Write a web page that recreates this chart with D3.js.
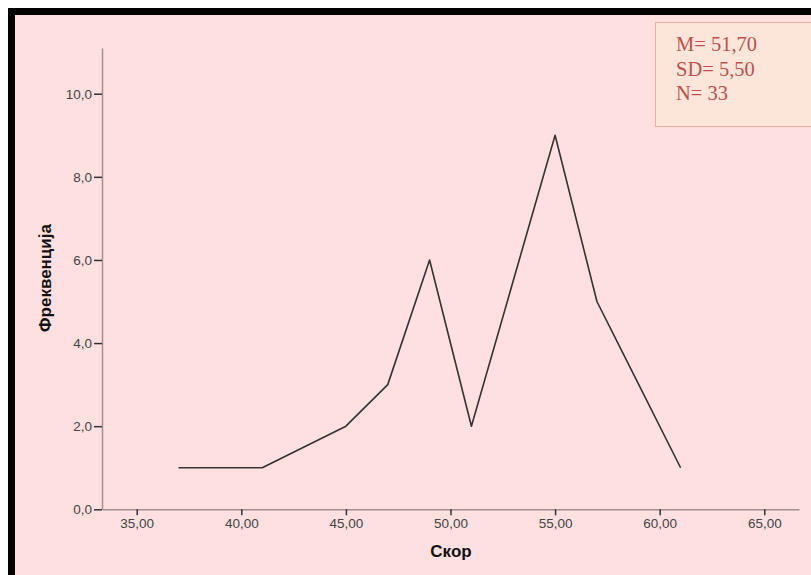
<!DOCTYPE html>
<html><head><meta charset="utf-8">
<script src="https://cdn.jsdelivr.net/npm/d3@7"></script>
<style>body{margin:0;background:#fff}svg{display:block}</style>
</head><body>
<script>
const scores = [37, 41, 45, 47, 49, 51, 55, 57, 59, 61];
const freqs  = [1, 1, 2, 3, 6, 2, 9, 5, 3, 1];
const xTicks = [35, 40, 45, 50, 55, 60, 65];
const yTicks = [0, 2, 4, 6, 8, 10];
const statLines = ["M= 51,70", "SD= 5,50", "N= 33"];
const xTitle = "Скор";
const yTitle = "Фреквенција";

const W = 811, H = 575;
const svg = d3.select("body").append("svg").attr("width", W).attr("height", H);
svg.append("rect").attr("x", 8).attr("y", 8).attr("width", W - 8).attr("height", H - 8).attr("fill", "#000");
svg.append("rect").attr("x", 15).attr("y", 15).attr("width", W - 15).attr("height", H - 15).attr("fill", "#FEE0E0");

const x = d3.scaleLinear().domain([33.34, 66.66]).range([102, 799]);
const y = d3.scaleLinear().domain([0, 11.1]).range([509.3, 48]);
const fmtX = d => d3.format(".2f")(d).replace(".", ",");
const fmtY = d => d3.format(".1f")(d).replace(".", ",");
const sans = "Arial, 'Liberation Sans', sans-serif";

// x axis
const gx = svg.append("g").attr("transform", "translate(0,509.3)")
  .call(d3.axisBottom(x).tickValues(xTicks).tickFormat(fmtX).tickSize(6).tickPadding(3).tickSizeOuter(0));
gx.select(".domain").attr("stroke", "#a09090").attr("stroke-width", 1.5);
gx.selectAll(".tick line").attr("stroke", "#333").attr("stroke-width", 1.5);
gx.selectAll(".tick text").attr("fill", "#444").style("font-family", sans).style("font-size", "13.5px");

// y axis
const gy = svg.append("g").attr("transform", "translate(102,0)")
  .call(d3.axisLeft(y).tickValues(yTicks).tickFormat(fmtY).tickSize(8).tickPadding(2).tickSizeOuter(0));
gy.select(".domain").attr("stroke", "#a09090").attr("stroke-width", 1.5);
gy.selectAll(".tick line").attr("stroke", "#333").attr("stroke-width", 1.5);
gy.selectAll(".tick text").attr("fill", "#444").style("font-family", sans).style("font-size", "13.5px");

// titles
svg.append("text").attr("x", 451).attr("y", 557).attr("text-anchor", "middle")
  .style("font-family", sans).style("font-size", "17px").style("font-weight", "bold")
  .attr("fill", "#111").text(xTitle);
svg.append("text").attr("transform", "translate(51,278) rotate(-90)").attr("text-anchor", "middle")
  .style("font-family", sans).style("font-size", "17px").style("font-weight", "bold")
  .attr("fill", "#111").text(yTitle);

// line
const data = scores.map((s, i) => ({s, f: freqs[i]}));
svg.append("path").datum(data)
  .attr("d", d3.line().x(d => x(d.s)).y(d => y(d.f)))
  .attr("fill", "none").attr("stroke", "#333").attr("stroke-width", 1.6).attr("stroke-linejoin", "round");

// stats box
svg.append("rect").attr("x", 655.5).attr("y", 22.5).attr("width", 170).attr("height", 104)
  .attr("fill", "#FCE6DA").attr("stroke", "#E8AFA8").attr("stroke-width", 1);
svg.append("g").selectAll("text").data(statLines).join("text")
  .attr("x", 676).attr("y", (d, i) => 51 + i * 24.5)
  .style("font-family", "'Liberation Serif', 'Times New Roman', serif").style("font-size", "20.5px")
  .attr("fill", "#C0504D").text(d => d);
</script>
</body></html>
